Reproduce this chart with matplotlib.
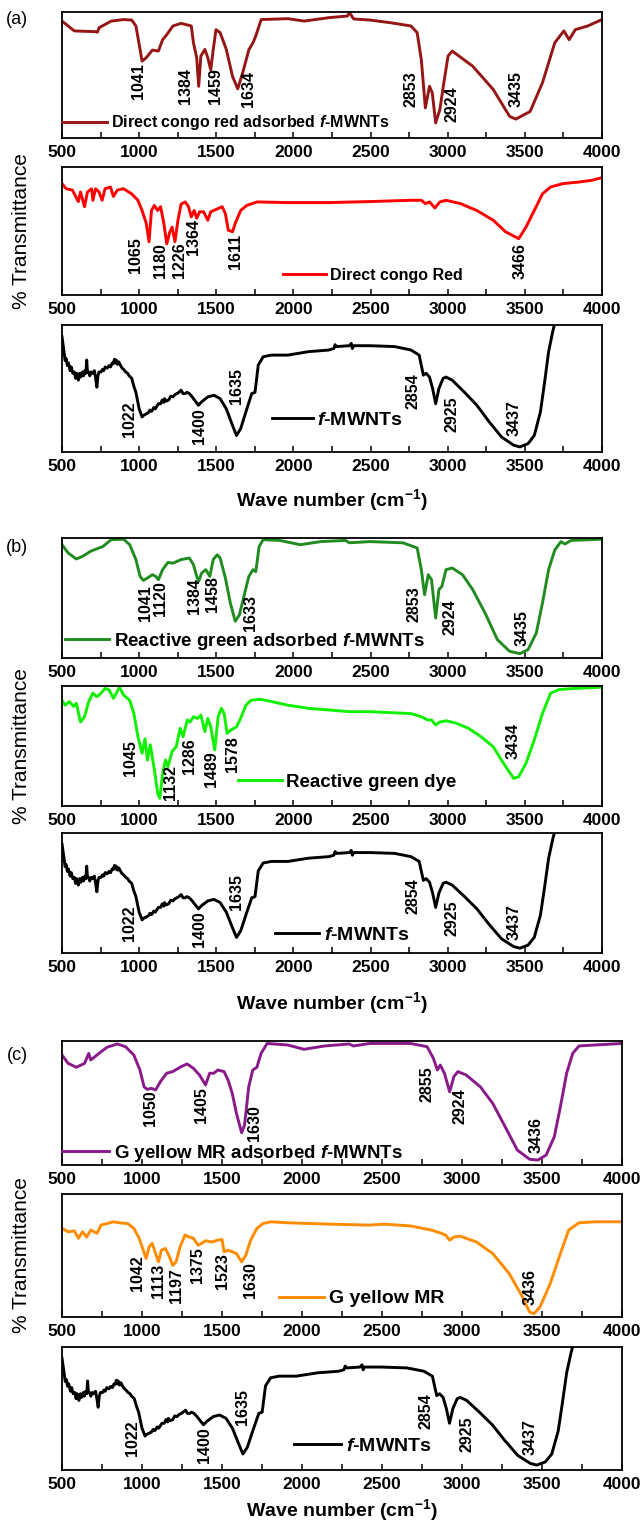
import matplotlib
matplotlib.use("Agg")
import matplotlib.pyplot as plt
from matplotlib.ticker import MultipleLocator

plt.rcParams["font.family"] = ["Liberation Sans", "DejaVu Sans"]
plt.rcParams["mathtext.fontset"] = "custom"
plt.rcParams["mathtext.rm"] = "Liberation Sans:weight=bold"
plt.rcParams["mathtext.bf"] = "Liberation Sans:weight=bold"
plt.rcParams["mathtext.it"] = "Liberation Sans:style=italic:weight=bold"

# ---------------- data (wavenumber cm-1, relative transmittance 0-100) ----------------
CR_ADS_WN = [500, 580, 713, 730, 740, 819, 899, 952, 979, 1006, 1019, 1046, 1086, 1125, 1152, 1179,
             1219, 1272, 1338, 1352, 1373, 1386, 1400, 1426, 1445, 1464, 1480, 1498, 1525, 1565, 1605,
             1639, 1671, 1711, 1738, 1756, 1791, 1964, 2070, 2230, 2350, 2363, 2390, 2496, 2629, 2762,
             2802, 2829, 2855, 2882, 2900, 2922, 2949, 2975, 3002, 3029, 3162, 3295, 3401, 3441, 3534,
             3614, 3694, 3753, 3787, 3827, 3907, 4000]
CR_ADS_T = [92.8, 85, 84.4, 84, 87.5, 92.8, 94, 93.6, 88.9, 70.3, 61, 63.7, 69.8, 69, 78, 82,
            88.9, 91, 88.9, 75.6, 63.7, 41, 65, 70.3, 63.7, 54, 70, 86, 83.6, 70.3, 49,
            39, 51.7, 70, 75.6, 81, 94, 94.7, 92.8, 95.5, 96.8, 99.5, 94.5, 93.6, 91.5, 88.9,
            83.6, 62, 23.9, 41, 35.8, 12, 22.5, 43.8, 65, 69, 57, 38.5, 17.2, 15, 21,
            43.8, 75.6, 85, 78, 86, 88.9, 94]
CR_ADS_PEAKS = ["1041", "1384", "1459", "1634", "2853", "2924", "3435"]
CR_ADS_PEAK_X = [998, 1298, 1498, 1711, 2762, 3029, 3441]
CR_ADS_PEAK_Y = [59.7, 55.7, 55.7, 53, 53, 41, 53]

CR_WN = [500, 527, 567, 606, 620, 646, 665, 692, 700, 718, 740, 760, 779, 814, 833, 859, 899, 952,
         992, 1019, 1046, 1064, 1080, 1099, 1120, 1139, 1160, 1179, 1198, 1213, 1232, 1251, 1272,
         1298, 1320, 1338, 1357, 1373, 1392, 1418, 1445, 1464, 1511, 1538, 1559, 1578, 1605, 1623,
         1658, 1698, 1764, 1964, 2230, 2496, 2762, 2829, 2855, 2882, 2917, 2949, 2989, 3082, 3189,
         3295, 3375, 3460, 3507, 3561, 3614, 3667, 3747, 3853, 3933, 4000]
CR_T = [87, 83, 82, 73, 80.5, 69, 80.5, 83, 74, 83, 80.5, 74, 83, 84.4, 77, 82, 83, 79,
        74, 66, 56, 41.6, 66, 70, 66, 69, 56, 40, 49, 53, 41.6, 58, 71,
        72.7, 69, 61, 66, 60, 65, 65, 58.4, 65, 67.5, 69, 63.6, 50.6, 49.4, 56,
        66, 70, 72.7, 72.2, 72.2, 73, 74, 74, 71.4, 72.7, 68, 72.7, 74, 71.4, 66,
        58.4, 49.4, 44, 53, 66, 79, 84.4, 87, 88.3, 89.6, 91.7]
CR_PEAKS = ["1065", "1180", "1226", "1364", "1611", "3466"]
CR_PEAK_X = [979, 1139, 1259, 1352, 1623, 3468]
CR_PEAK_Y = [45.5, 40.3, 41.6, 59.7, 48, 40.3]

MWNT_WN = [500, 512, 520, 527, 535, 542, 553, 560, 570, 580, 588, 595, 606, 615, 622, 633, 640,
           648, 655, 660, 665, 673, 680, 690, 700, 710, 718, 726, 733, 740, 753, 762, 770, 780,
           793, 805, 815, 825, 833, 840, 846, 851, 860, 868, 878, 890, 900, 913, 925, 935, 952,
           965, 979, 1000, 1019, 1030, 1046, 1060, 1070, 1080, 1086, 1095, 1105, 1112, 1125, 1139,
           1150, 1160, 1165, 1175, 1192, 1205, 1219, 1230, 1245, 1258, 1272, 1285, 1298, 1310,
           1325, 1340, 1352, 1384, 1405, 1445, 1485, 1525, 1565, 1605, 1631, 1658, 1698, 1730,
           1751, 1772, 1804, 1857, 1964, 2097, 2230, 2262, 2270, 2280, 2363, 2375, 2382, 2390,
           2496, 2656, 2762, 2815, 2842, 2860, 2882, 2902, 2922, 2943, 2970, 2989, 3029, 3109,
           3189, 3269, 3349, 3428, 3468, 3521, 3561, 3601, 3628, 3654, 3681, 3707, 3760, 4000]
MWNT_T = [90.8, 80, 72, 73.7, 68, 70, 64, 67, 62, 63, 58, 62, 56.6, 62, 59, 63, 60,
          64, 62, 72.4, 63, 63, 60, 63, 62, 64, 58, 51, 60, 63, 63, 65, 64, 67,
          66, 68, 67, 70, 69.7, 73, 70, 72.4, 69, 71, 68.4, 66, 65, 63, 62, 60, 58,
          52, 47, 34, 27.6, 29, 30, 31, 33, 32, 33, 35, 34, 35.5, 38, 38,
          41, 39, 42, 40, 41, 44, 43.4, 45, 46, 47, 48.7, 46, 46, 47,
          46, 44, 42, 36.8, 39.5, 43.4, 44.7, 42, 34, 21, 13, 18.4, 34, 46,
          47, 68.4, 75, 76.3, 76.3, 79, 80.3, 81.5, 84.5, 83, 83.7, 85.5, 81.5, 83.7,
          83.7, 83, 80.3, 76.3, 60.5, 62, 59, 50, 38, 50, 58, 59, 56.6, 47,
          36.8, 23.7, 11.8, 5.3, 4, 6.6, 13, 31.6, 55, 79, 95, 108, 130, 180]
MWNT_PEAKS = ["1022", "1400", "1635", "2854", "2925", "3437"]
MWNT_PEAK_X = [939, 1392, 1631, 2776, 3029, 3428]
MWNT_PEAK_Y = [40, 34.5, 66, 62, 44, 41]

RG_ADS_WN = [500, 540, 593, 633, 686, 766, 819, 899, 939, 979, 1006, 1027, 1054, 1086, 1107, 1125,
             1152, 1187, 1219, 1272, 1325, 1352, 1373, 1386, 1405, 1432, 1458, 1480, 1506, 1525,
             1559, 1591, 1623, 1650, 1684, 1711, 1738, 1756, 1778, 1804, 1911, 2044, 2177, 2337,
             2363, 2496, 2709, 2802, 2829, 2850, 2874, 2895, 2922, 2943, 2962, 2989, 3029, 3096,
             3162, 3242, 3322, 3401, 3468, 3521, 3574, 3614, 3654, 3694, 3734, 3760, 3800, 4000]
RG_ADS_T = [94.4, 87.5, 82.5, 84.7, 89, 93, 98.6, 99, 94.4, 82, 68, 64.7, 66.7, 69.4, 68, 65.3,
            73.6, 79.7, 79, 82, 83.3, 77.8, 68, 64, 70.8, 73.6, 68, 82, 86, 83.3,
            66.7, 45.8, 30.6, 36, 54, 68, 73.6, 72, 93, 98.6, 98, 94.4, 97, 98,
            96, 97, 96, 91.7, 73.6, 52.8, 69.4, 65.3, 33.3, 57, 59.7, 73.6, 75, 69.4,
            57, 37.5, 15.3, 5.6, 3.6, 7, 20.8, 45.8, 73.6, 90, 97, 95, 98, 99]
RG_ADS_PEAKS = ["1041", "1120", "1384", "1458", "1633", "2853", "2924", "3435"]
RG_ADS_PEAK_X = [1038, 1139, 1357, 1477, 1724, 2784, 3015, 3481]
RG_ADS_PEAK_Y = [61, 64, 66.7, 68, 52.8, 59.7, 48.6, 40.3]

RG_WN = [500, 521, 548, 575, 593, 620, 646, 673, 700, 726, 753, 779, 806, 833, 873, 899, 939,
         966, 992, 1019, 1038, 1054, 1072, 1099, 1120, 1134, 1152, 1171, 1187, 1213, 1240, 1266,
         1285, 1312, 1330, 1352, 1378, 1400, 1426, 1445, 1464, 1490, 1512, 1533, 1551, 1570,
         1591, 1631, 1658, 1692, 1724, 1778, 1831, 1964, 2097, 2230, 2363, 2496, 2762, 2829,
         2869, 2895, 2922, 2949, 2989, 3055, 3135, 3215, 3295, 3362, 3428, 3460, 3507, 3561,
         3614, 3667, 3720, 3827, 4000]
RG_T = [88, 84, 87, 83, 85.5, 70, 74.4, 87, 94, 91, 94, 98, 96.7, 89.7, 99, 92.5, 88,
        77, 57.8, 44, 56, 38.3, 51, 30, 10.6, 6.4, 27, 38.3, 32.8, 45.3, 49.4, 64.7,
        57.8, 71.7, 70, 74.4, 73, 75.8, 62, 73, 66, 46.7, 74.4, 81.4, 77, 60.6,
        63, 66, 73, 84, 88, 89, 87.8, 84, 81.4, 80, 78.6, 78.6, 77, 74.4,
        71.7, 71.7, 67.5, 70, 71, 69, 64.7, 57.8, 49.4, 35.5, 23, 24.4, 35.5, 55,
        77, 94, 97, 98, 99]
RG_PEAKS = ["1045", "1132", "1286", "1489", "1578", "3434"]
RG_PEAK_X = [947, 1200, 1325, 1472, 1605, 3422]
RG_PEAK_Y = [55, 34, 56.4, 45.3, 57.8, 69]

GY_ADS_WN = [500, 538, 590, 641, 667, 680, 731, 782, 846, 897, 949, 987, 1013, 1033, 1059, 1085,
             1115, 1154, 1192, 1244, 1282, 1321, 1359, 1385, 1397, 1423, 1449, 1474, 1513, 1538,
             1564, 1590, 1623, 1641, 1667, 1692, 1718, 1744, 1782, 1910, 2013, 2141, 2295, 2321,
             2423, 2679, 2782, 2821, 2846, 2864, 2890, 2923, 2949, 2974, 3026, 3115, 3192, 3269,
             3346, 3423, 3474, 3526, 3577, 3615, 3654, 3692, 3731, 3833, 4000]
GY_ADS_T = [88.7, 82, 78.8, 82, 90, 84.7, 90, 95, 97.6, 95.4, 88.7, 76.6, 63, 61, 61.8, 60.5,
            67.2, 74, 75.3, 79.3, 81.5, 78, 72.6, 67.2, 64.5, 74, 74, 76.6, 75.3, 68.5,
            57.8, 41.7, 26, 32.3, 63, 76.6, 78.8, 90, 98, 96.8, 93.3, 96, 97.6, 96,
            98, 98, 95.4, 86, 76.6, 80.6, 74, 59, 71.2, 75.3, 72.6, 63, 49.7, 31,
            12, 4.6, 4, 8, 22.8, 47, 74, 90, 96, 96.8, 98]
GY_ADS_PEAKS = ["1050", "1405", "1630", "2855", "2924", "3436"]
GY_ADS_PEAK_X = [1051, 1372, 1705, 2782, 2987, 3462]
GY_ADS_PEAK_Y = [60.5, 63, 48.4, 79.3, 61.8, 39]

GY_WN = [500, 538, 577, 603, 628, 654, 680, 718, 744, 782, 821, 859, 910, 949, 982, 1008, 1026,
         1044, 1064, 1085, 1103, 1121, 1146, 1167, 1192, 1213, 1238, 1269, 1295, 1321, 1351,
         1372, 1397, 1436, 1474, 1500, 1513, 1538, 1564, 1590, 1623, 1649, 1679, 1718, 1756,
         1808, 1910, 2167, 2423, 2513, 2679, 2808, 2872, 2897, 2923, 2949, 2987, 3090, 3192,
         3295, 3372, 3423, 3449, 3487, 3551, 3615, 3667, 3731, 3833, 4000]
GY_T = [72, 69.3, 70, 64, 69.3, 65, 70.7, 68, 74.7, 76, 77.4, 76.6, 76, 72, 64, 54.3, 47.6,
        57, 59.8, 51.6, 44.8, 54.3, 55.7, 50.3, 42, 44.8, 57, 66.6, 65, 64, 58.4,
        59.8, 62, 61, 62.5, 63, 53, 54.3, 53, 51.6, 44.8, 50.3, 62.5, 72, 76,
        77.4, 76.6, 75.5, 74.7, 75.5, 74, 70.7, 68, 66.6, 62.5, 65, 65.8, 61, 51.6,
        35.3, 17.7, 4, 2.7, 8, 27, 51.6, 70.7, 76.6, 77.4, 77.4]
GY_PEAKS = ["1042", "1113", "1197", "1375", "1523", "1630", "3436"]
GY_PEAK_X = [974, 1103, 1218, 1346, 1500, 1679, 3423]
GY_PEAK_Y = [50.3, 43.5, 39.4, 57, 51.6, 44.8, 39.4]

LABELS = ["Direct congo red adsorbed $\\it{f}$-MWNTs", "Direct congo Red",
          "Reactive green adsorbed $\\it{f}$-MWNTs", "Reactive green dye",
          "G yellow MR adsorbed $\\it{f}$-MWNTs", "G yellow MR", "$\\it{f}$-MWNTs"]

# ---------------- layout ----------------
W, H = 644, 1527
fig = plt.figure(figsize=(W / 100, H / 100), dpi=100)


def add_panel(left, right, top, bottom):
    return fig.add_axes([left / W, 1 - bottom / H, (right - left) / W, (bottom - top) / H])


def draw(ax, wn, t, color, label, peaks, px, py, leg_xy, line_px, leg_fs):
    ax.plot(wn, t, color=color, lw=2.1, label=label)
    ax.set_xlim(500, 4000)
    ax.set_ylim(0, 100)
    ax.set_yticks([])
    ax.xaxis.set_major_locator(MultipleLocator(500))
    ax.xaxis.set_minor_locator(MultipleLocator(250))
    ax.tick_params(axis="x", which="both", direction="in", length=4, width=1.1,
                   labelsize=12.5, pad=5, top=False)
    for lab in ax.get_xticklabels():
        lab.set_fontweight("bold")
    for s in ax.spines.values():
        s.set_linewidth(1.3)
    for txt, x, y in zip(peaks, px, py):
        ax.text(x, y, txt, rotation=90, ha="center", va="top", fontsize=11.5,
                fontweight="bold", clip_on=False)
    ax.legend(loc="center left", bbox_to_anchor=leg_xy, frameon=False, borderpad=0,
              borderaxespad=0, handlelength=line_px / (leg_fs * 100 / 72), handletextpad=0.25,
              prop={"size": leg_fs, "weight": "bold"})


groups = [
    # (left, right, panel tops/bottoms, xlabel y, tag, tag y)
    (62, 602, [(12, 138), (167, 295), (325, 452)], 500, "(a)", 20),
    (62, 602, [(538, 658), (686, 806), (833, 953)], 1003, "(b)", 547),
    (62, 622, [(1041, 1165), (1194, 1317), (1347, 1470)], 1510, "(c)", 1056),
]

series = [
    [(CR_ADS_WN, CR_ADS_T, "#961616", LABELS[0], CR_ADS_PEAKS, CR_ADS_PEAK_X, CR_ADS_PEAK_Y, (0.0, 0.12), 45, 11.5),
     (CR_WN, CR_T, "#ff0000", LABELS[1], CR_PEAKS, CR_PEAK_X, CR_PEAK_Y, (0.41, 0.156), 43, 11.5),
     (MWNT_WN, MWNT_T, "black", LABELS[6], MWNT_PEAKS, MWNT_PEAK_X, MWNT_PEAK_Y, (0.388, 0.25), 41, 14)],
    [(RG_ADS_WN, RG_ADS_T, "#208c20", LABELS[2], RG_ADS_PEAKS, RG_ADS_PEAK_X, RG_ADS_PEAK_Y, (0.006, 0.139), 44, 13.5),
     (RG_WN, RG_T, "#10f000", LABELS[3], RG_PEAKS, RG_PEAK_X, RG_PEAK_Y, (0.325, 0.20), 44, 13.5),
     (MWNT_WN, MWNT_T, "black", LABELS[6], MWNT_PEAKS, MWNT_PEAK_X, MWNT_PEAK_Y, (0.394, 0.15), 44, 14)],
    [(GY_ADS_WN, GY_ADS_T, "#8a1a8a", LABELS[4], GY_ADS_PEAKS, GY_ADS_PEAK_X, GY_ADS_PEAK_Y, (0.0, 0.094), 47, 13.5),
     (GY_WN, GY_T, "#ff8c00", LABELS[5], GY_PEAKS, GY_PEAK_X, GY_PEAK_Y, (0.388, 0.15), 45, 14),
     (MWNT_WN, MWNT_T, "black", LABELS[6], MWNT_PEAKS, MWNT_PEAK_X, MWNT_PEAK_Y, (0.414, 0.195), 47, 14)],
]

for (left, right, boxes, xl_y, tag, tag_y), rows in zip(groups, series):
    for (top, bottom), args in zip(boxes, rows):
        ax = add_panel(left, right, top, bottom)
        draw(ax, *args)
    fig.text((left + right) / 2 / W, 1 - xl_y / H, "Wave number (cm$^{-1}$)", ha="center",
             va="center", fontsize=14, fontweight="bold")
    mid = (boxes[1][0] + boxes[1][1]) / 2
    fig.text(22 / W, 1 - mid / H, "% Transmittance", rotation=90, ha="center", va="center",
             fontsize=15)
    fig.text(17 / W, 1 - tag_y / H, tag, ha="center", va="center", fontsize=13)

fig.savefig("out.png", dpi=100)
